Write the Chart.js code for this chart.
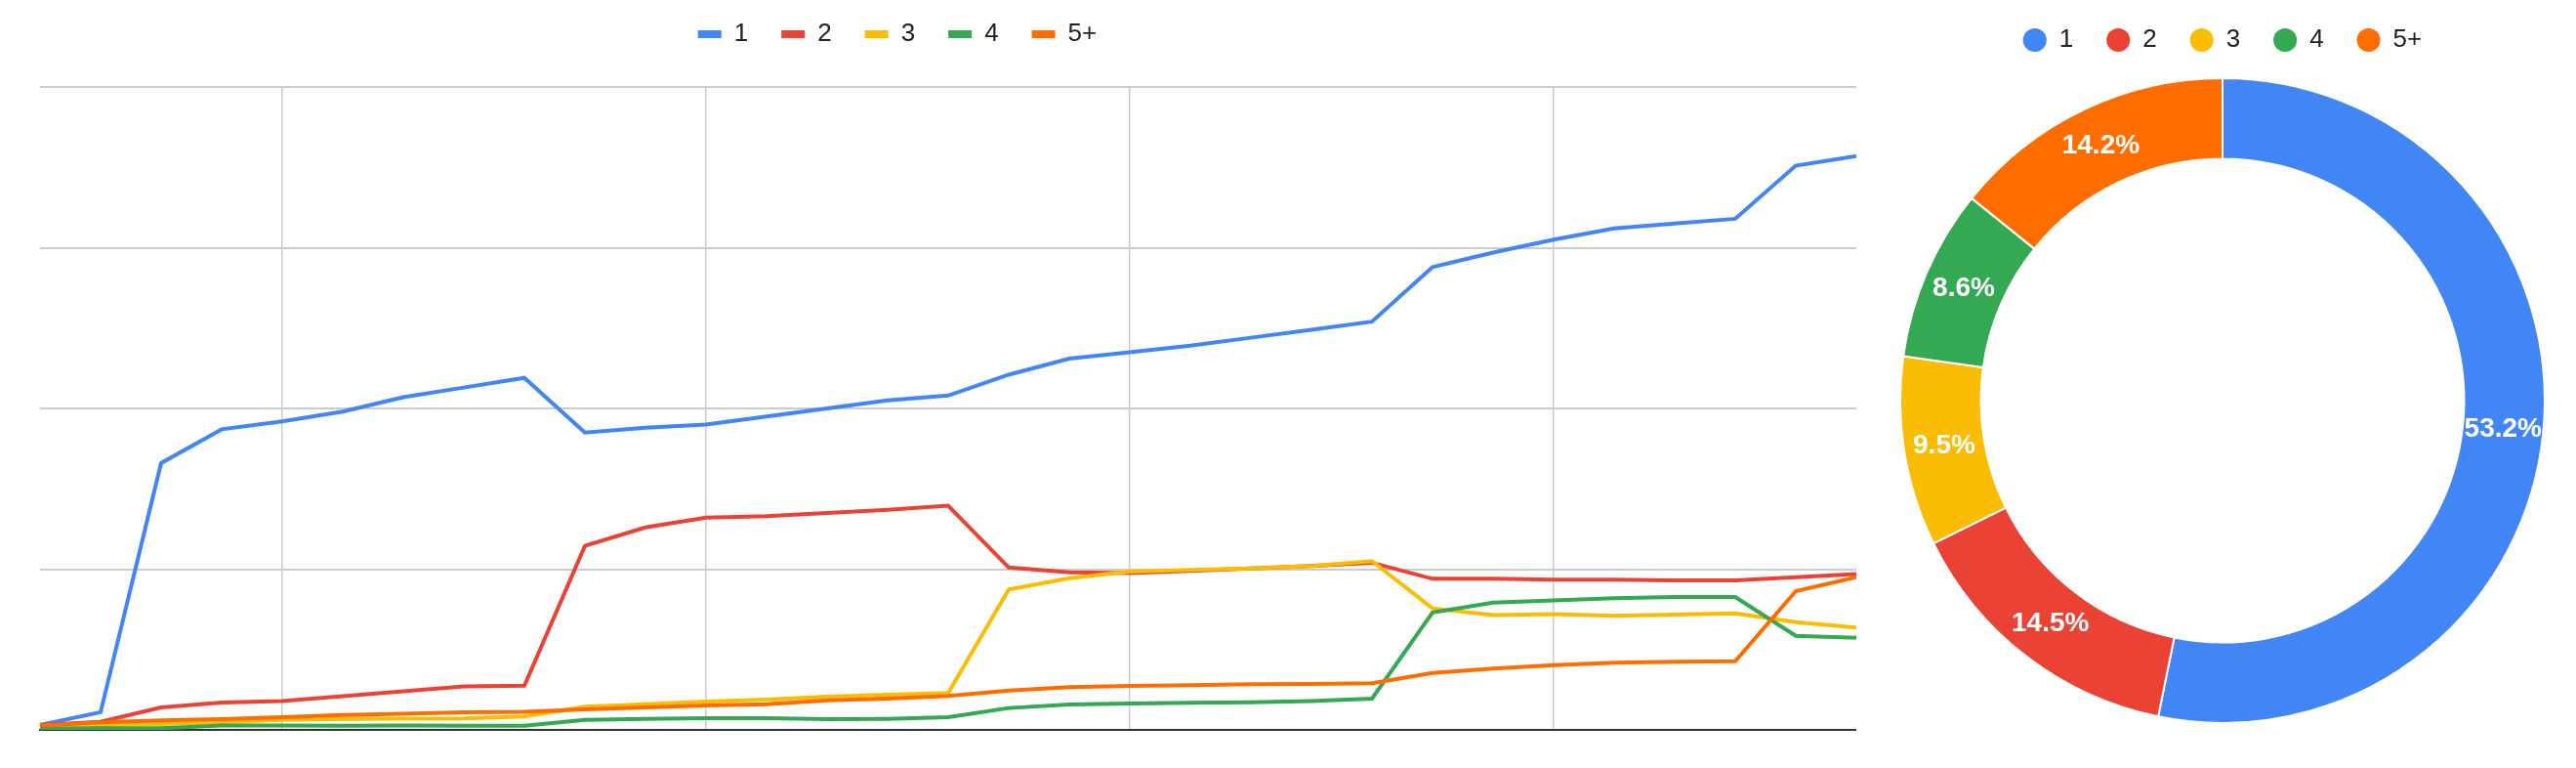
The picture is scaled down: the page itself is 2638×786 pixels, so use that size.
<!DOCTYPE html>
<html>
<head>
<meta charset="utf-8">
<title>Series over time and share</title>
<script src="https://cdn.jsdelivr.net/npm/chart.js@4/dist/chart.umd.min.js"></script>
<style>
  html, body { margin: 0; padding: 0; background: #fff; }
  body { position: relative; width: 2638px; height: 786px; overflow: hidden; }
  #lines { position: absolute; left: -63px; top: -12px; }
  #share { position: absolute; left: 1914px; top: -6px; }
</style>
</head>
<body>
<canvas id="lines" width="1964" height="769"></canvas>
<canvas id="share" width="724" height="800"></canvas>
<script>
const categories = ['1', '2', '3', '4', '5', '6', '7', '8', '9', '10', '11', '12', '13', '14', '15', '16',
  '17', '18', '19', '20', '21', '22', '23', '24', '25', '26', '27', '28', '29', '30', '31'];
const seriesNames = ['1', '2', '3', '4', '5+'];
const seriesColors = ['#4285F4', '#EA4335', '#FBBC04', '#34A853', '#FF6D01'];

const series1 = [3, 11, 166, 187, 192, 198, 207, 213, 219, 185, 188, 190, 195, 200, 205, 208,
  221, 231, 235, 239, 244, 249, 254, 288, 297, 305, 312, 315, 318, 351, 357];
const series2 = [3, 5, 14, 17, 18, 21, 24, 27, 27.5, 114.5, 126, 132, 133, 135, 137, 139.5,
  101, 98, 97.5, 99, 100.5, 102, 104, 94, 94, 93.5, 93.5, 93, 93, 95, 97];
const series3 = [2.4, 3, 3.6, 4.7, 6.3, 6.9, 7, 7.2, 8.3, 14.4, 16, 17.6, 18.8, 20.7, 21.9, 22.9,
  87.4, 94.4, 98.5, 99.5, 100.5, 102, 105, 75.6, 71.5, 72, 71, 71.7, 72.5, 67, 63.6];
const series4 = [0.8, 1, 1, 2.8, 2.7, 2.6, 2.7, 2.6, 2.6, 6.3, 6.9, 7.3, 7.3, 6.7, 6.9, 7.9,
  13.6, 15.8, 16.4, 16.8, 17.2, 18, 19.5, 73.1, 79.2, 80.6, 81.9, 82.7, 82.7, 58.5, 57.3];
const series5 = [2.6, 4.7, 5.9, 6.7, 7.9, 9.3, 10.1, 10.9, 11.3, 12.8, 14, 15.2, 16, 18.4, 19.5, 21.1,
  24.5, 26.6, 27.4, 27.8, 28.4, 28.6, 29, 35.4, 38.1, 40.3, 41.8, 42.4, 42.7, 86.3, 95];

// share of each series (doughnut)
const shareValues = [53.2, 14.5, 9.5, 8.6, 14.2];

const yMax = 400;
const yStep = 100;

Chart.defaults.font.family = "'Liberation Sans', Arial, sans-serif";
Chart.defaults.color = '#222';

const lineData = [series1, series2, series3, series4, series5];

new Chart(document.getElementById('lines'), {
  type: 'line',
  data: {
    labels: categories,
    datasets: seriesNames.map((name, i) => ({
      label: name,
      data: lineData[i],
      xAxisID: 'x',
      borderColor: seriesColors[i],
      backgroundColor: seriesColors[i],
      borderWidth: 4,
      pointRadius: 0,
      tension: 0,
      // later series are drawn on top
      order: seriesNames.length - i
    }))
  },
  options: {
    responsive: false,
    animation: false,
    layout: { padding: { bottom: 10 } },
    plugins: {
      tooltip: { enabled: false },
      legend: {
        labels: {
          font: { size: 26 },
          boxWidth: 24,
          boxHeight: 8,
          padding: 34,
          sort: (a, b) => a.datasetIndex - b.datasetIndex,
          generateLabels: chart => Chart.defaults.plugins.legend.labels.generateLabels(chart)
            .map(item => Object.assign(item, { lineWidth: 0 }))
        }
      }
    },
    scales: {
      x: {
        grid: {
          color: ctx => (ctx.index % 7 === 4 ? '#cccccc' : 'rgba(0,0,0,0)'),
          lineWidth: 1.5,
          drawTicks: false
        },
        border: { display: true, color: '#333333', width: 2 },
        ticks: { display: false },
        afterFit: scale => { scale.height = 0; }
      },
      xTop: {
        type: 'category',
        position: 'top',
        grid: { display: false },
        border: { display: false },
        ticks: { display: false },
        afterFit: scale => { scale.height = 31; }
      },
      y: {
        min: 0,
        max: yMax,
        ticks: { display: false, stepSize: yStep },
        grid: {
          color: ctx => (ctx.tick.value === 0 ? '#333333' : '#cccccc'),
          lineWidth: 2,
          drawTicks: false
        },
        border: { display: false },
        afterFit: scale => { scale.width = 104; }
      }
    }
  }
});

const shareLabels = {
  id: 'shareLabels',
  afterDatasetsDraw(chart) {
    const ctx = chart.ctx;
    const meta = chart.getDatasetMeta(0);
    const values = chart.data.datasets[0].data;
    const total = values.reduce((a, b) => a + b, 0);
    ctx.save();
    ctx.font = "bold 28px 'Liberation Sans', Arial, sans-serif";
    ctx.fillStyle = '#ffffff';
    ctx.textAlign = 'center';
    ctx.textBaseline = 'middle';
    meta.data.forEach((arc, i) => {
      const pos = arc.tooltipPosition();
      ctx.fillText((values[i] / total * 100).toFixed(1) + '%', pos.x, pos.y);
    });
    ctx.restore();
  }
};

new Chart(document.getElementById('share'), {
  type: 'doughnut',
  data: {
    labels: seriesNames,
    datasets: [{
      data: shareValues,
      backgroundColor: seriesColors,
      borderColor: '#ffffff',
      borderWidth: 2,
      radius: 330,
      cutout: '75%'
    }]
  },
  options: {
    responsive: false,
    animation: false,
    layout: { padding: { bottom: 38 } },
    plugins: {
      tooltip: { enabled: false },
      legend: {
        labels: {
          font: { size: 26 },
          usePointStyle: true,
          pointStyle: 'circle',
          boxWidth: 24,
          boxHeight: 17,
          padding: 34,
          generateLabels: chart => Chart.overrides.doughnut.plugins.legend.labels.generateLabels(chart)
            .map(item => Object.assign(item, { lineWidth: 0 }))
        }
      }
    }
  },
  plugins: [shareLabels]
});
</script>
</body>
</html>
